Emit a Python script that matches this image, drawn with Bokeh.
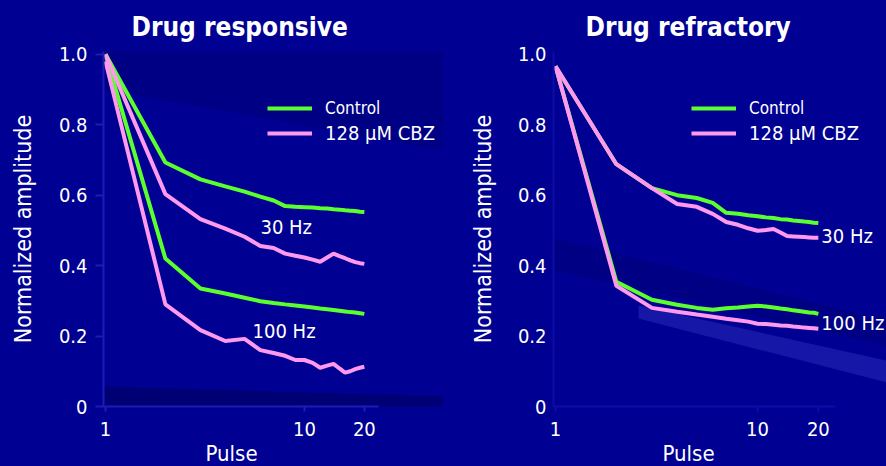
from bokeh.plotting import figure
from bokeh.models import (Label, Legend, LegendItem, FixedTicker, NumeralTickFormatter,
                          PolyAnnotation, Title)
from bokeh.layouts import row
from bokeh.embed import file_html
from bokeh.resources import INLINE

# ---------------- data ----------------
pulses = list(range(1, 21))

resp_30_control = [1.0, 0.693, 0.645, 0.625, 0.61, 0.596, 0.585, 0.569, 0.567, 0.566,
                   0.565, 0.563, 0.562, 0.560, 0.559, 0.557, 0.556, 0.555, 0.553, 0.552]
resp_30_cbz = [1.0, 0.603, 0.532, 0.505, 0.482, 0.456, 0.45, 0.434, 0.428, 0.423,
               0.417, 0.411, 0.423, 0.434, 0.427, 0.421, 0.415, 0.41, 0.407, 0.405]
resp_100_control = [1.0, 0.42, 0.335, 0.321, 0.309, 0.299, 0.294, 0.290, 0.287, 0.284,
                    0.281, 0.278, 0.276, 0.274, 0.272, 0.270, 0.268, 0.267, 0.265, 0.263]
resp_100_cbz = [0.98, 0.29, 0.217, 0.186, 0.192, 0.16, 0.152, 0.144, 0.132, 0.132,
                0.124, 0.11, 0.116, 0.121, 0.108, 0.096, 0.10, 0.106, 0.110, 0.113]

refr_30_control = [0.966, 0.688, 0.620, 0.600, 0.592, 0.578, 0.550, 0.547, 0.543, 0.540,
                   0.537, 0.535, 0.532, 0.531, 0.528, 0.527, 0.525, 0.524, 0.522, 0.521]
refr_30_cbz = [0.966, 0.688, 0.620, 0.575, 0.567, 0.547, 0.524, 0.516, 0.506, 0.499,
               0.501, 0.504, 0.494, 0.484, 0.483, 0.482, 0.481, 0.480, 0.479, 0.479]
refr_100_control = [0.966, 0.354, 0.303, 0.289, 0.280, 0.275, 0.279, 0.281, 0.284, 0.286,
                    0.284, 0.281, 0.278, 0.276, 0.273, 0.271, 0.269, 0.267, 0.266, 0.263]
refr_100_cbz = [0.966, 0.343, 0.280, 0.269, 0.261, 0.255, 0.249, 0.245, 0.241, 0.235,
                0.234, 0.232, 0.230, 0.229, 0.227, 0.226, 0.224, 0.223, 0.222, 0.221]

x_ticks = [1, 10, 20]
y_ticks = [0, 0.2, 0.4, 0.6, 0.8, 1.0]
titles = ["Drug responsive", "Drug refractory"]
legend_labels = ["Control", "128 \u00b5M CBZ"]
freq_labels = ["30 Hz", "100 Hz"]
x_title = "Pulse"
y_title = "Normalized amplitude"

# ---------------- style ----------------
BG = "#000092"
GREEN = "#5cff2e"
PINK = "#ff99ee"
FONT = "Liberation Sans Narrow, DejaVu Sans Condensed, sans-serif"


def make_panel(title, c30, b30, c100, b100, xr, bounds, bl, axis_col, lbl30, lbl100,
               align30, tick_out, standoff, leg_x, title_offset, pulse_offset,
               ylab_standoff, bands):
    p = figure(width=443, height=466, x_axis_type="log", x_range=xr, y_range=(0, 1.008),
               output_backend="svg", toolbar_location=None,
               min_border_left=bl, min_border_right=0, min_border_top=50,
               min_border_bottom=60)
    p.background_fill_color = BG
    p.border_fill_color = BG
    p.outline_line_color = None
    p.grid.visible = False

    # title
    p.title.text = title
    p.title.text_color = "white"
    p.title.text_font = FONT
    p.title.text_font_style = "bold"
    p.title.text_font_size = "26px"
    p.title.align = "left"
    p.title.offset = title_offset
    p.title.standoff = 19

    for xs, ys, col, alpha in bands:
        p.add_layout(PolyAnnotation(xs=xs, ys=ys, xs_units="canvas", ys_units="canvas",
                                    fill_color=col, fill_alpha=alpha, line_alpha=0,
                                    level="underlay"))

    p.xaxis.ticker = FixedTicker(ticks=x_ticks, minor_ticks=[])
    p.xaxis.formatter = NumeralTickFormatter(format="0")
    p.xaxis.bounds = bounds
    p.yaxis.ticker = FixedTicker(ticks=y_ticks, minor_ticks=[])
    p.yaxis.formatter = NumeralTickFormatter(format="0.0")
    p.yaxis.major_label_overrides = {0: "0"}
    for ax in (p.xaxis[0], p.yaxis[0]):
        ax.axis_line_color = axis_col
        ax.axis_line_width = 2
        ax.major_tick_line_color = axis_col
        ax.major_tick_line_width = 2
        ax.major_tick_in = 0
        ax.minor_tick_line_color = None
        ax.major_label_text_color = "white"
        ax.major_label_text_font = FONT
        ax.major_label_text_font_size = "20px"
        ax.axis_label_text_color = "white"
        ax.axis_label_text_font = FONT
        ax.axis_label_text_font_style = "normal"
    p.yaxis.major_tick_out = tick_out
    p.yaxis.major_label_standoff = standoff
    p.xaxis.major_tick_out = 5
    p.xaxis.major_label_standoff = 10
    p.yaxis.axis_label = y_title
    p.yaxis.axis_label_text_font_size = "23px"
    p.yaxis.axis_label_standoff = ylab_standoff

    p.add_layout(Title(text=x_title, align="left", offset=pulse_offset, standoff=0,
                       text_color="white", text_font=FONT, text_font_style="normal",
                       text_font_size="22px"), "below")

    g1 = p.line(pulses, c30, line_color=GREEN, line_width=4)
    p.line(pulses, c100, line_color=GREEN, line_width=4)
    k1 = p.line(pulses, b30, line_color=PINK, line_width=4)
    p.line(pulses, b100, line_color=PINK, line_width=4)

    common = dict(background_fill_alpha=0, border_line_alpha=0, padding=0, margin=0,
                  glyph_width=45, glyph_height=20, label_standoff=13, label_height=20,
                  label_text_color="white", label_text_font=FONT, spacing=0)
    leg1 = Legend(items=[LegendItem(label=legend_labels[0], renderers=[g1])],
                  location=(leg_x, 288), label_text_font_size="17px", **common)
    leg2 = Legend(items=[LegendItem(label=legend_labels[1], renderers=[k1])],
                  location=(leg_x, 261), label_text_font_size="20px", **common)
    p.add_layout(leg1)
    p.add_layout(leg2)

    txt = dict(text_color="white", text_font=FONT, text_font_size="20px",
               text_baseline="middle", text_align=align30)
    p.add_layout(Label(x=lbl30[0], y=lbl30[1], text=freq_labels[0], **txt))
    p.add_layout(Label(x=lbl100[0], y=lbl100[1], text=freq_labels[1], **txt))
    return p


left_bands = [
    ([0, 443, 443, 0], [383, 396, 410, 405], "#000058", 0.5),
    ([0, 443, 443, 0], [0, 0, 150, 70], "#000060", 0.25),
]
right_bands = [
    ([195, 443, 443, 195], [305, 360, 382, 318], "#3030c0", 0.45),
    ([0, 443, 443, 0], [210, 320, 345, 245], "#000060", 0.25),
]

left = make_panel(titles[0], resp_30_control, resp_30_cbz, resp_100_control, resp_100_cbz,
                  xr=(0.977, 50.0), bounds=(0.977, 23.5), bl=103, axis_col="#1c1cb8",
                  lbl30=(8.1, 0.51), lbl100=(7.9, 0.215), align30="center",
                  tick_out=8, standoff=8, leg_x=164, title_offset=28, pulse_offset=102,
                  ylab_standoff=20, bands=left_bands)
right = make_panel(titles[1], refr_30_control, refr_30_cbz, refr_100_control, refr_100_cbz,
                   xr=(0.977, 43.5), bounds=(0.977, 24.3), bl=110, axis_col="#0c0ca6",
                   lbl30=(20.7, 0.484), lbl100=(20.7, 0.238), align30="left",
                   tick_out=0, standoff=7, leg_x=138, title_offset=32, pulse_offset=109,
                   ylab_standoff=19, bands=right_bands)

layout = row(left, right, styles={"background-color": BG})
open("out.html", "w").write(file_html(layout, INLINE))
